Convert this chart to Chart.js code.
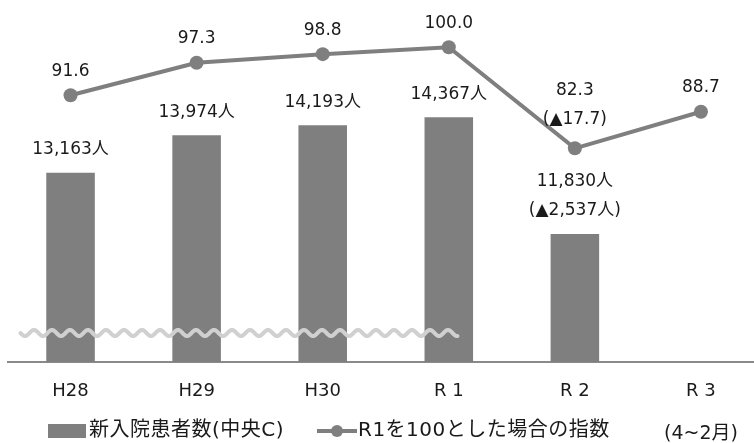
<!DOCTYPE html>
<html lang="ja">
<head>
<meta charset="utf-8">
<script src="https://cdn.jsdelivr.net/npm/chart.js@4/dist/chart.umd.min.js"></script>
<style>
  html, body { margin: 0; padding: 0; background: #fff; overflow: hidden; }
  #wrap { width: 764px; height: 443px; }
</style>
</head>
<body>
<div id="wrap"><canvas id="chart"></canvas></div>
<script>
// 年度ラベル
const years = ['H28', 'H29', 'H30', 'R 1', 'R 2', 'R 3'];
// 新入院患者数（中央C）: R3 は棒なし
const patients = [13163, 13974, 14193, 14367, 11830, null];
// R1を100とした場合の指数
const indexValues = [91.6, 97.3, 98.8, 100.0, 82.3, 88.7];
// 値ラベル（複数行は配列）
const patientLabels = ['13,163人', '13,974人', '14,193人', '14,367人', ['11,830人', '(▲2,537人)'], null];
const indexLabels = ['91.6', '97.3', '98.8', '100.0', ['82.3', '(▲17.7)'], '88.7'];
const periodNote = '(4~2月)';

const GRAY = '#7f7f7f';
const TEXT = '#1a1a1a';
const LATIN_JP = '"DejaVu Sans", "Noto Sans CJK JP", sans-serif';

// 値ラベル・波線・凡例を描くプラグイン
const decorations = {
  id: 'decorations',
  afterDatasetsDraw(chart) {
    const ctx = chart.ctx;
    const area = chart.chartArea;

    // 省略を示す波線
    ctx.save();
    ctx.strokeStyle = '#d0d0d0';
    ctx.lineWidth = 4;
    ctx.lineCap = 'round';
    ctx.beginPath();
    const wy = area.bottom - 29;
    const x0 = area.left + 13, x1 = area.left + 450;
    for (let x = x0; x <= x1; x += 1) {
      const y = wy + 3 * Math.sin((x - x0) / 18 * Math.PI * 2);
      if (x === x0) ctx.moveTo(x, y); else ctx.lineTo(x, y);
    }
    ctx.stroke();
    ctx.restore();

    // 値ラベル
    ctx.save();
    ctx.fillStyle = TEXT;
    ctx.font = '17px ' + LATIN_JP;
    ctx.textAlign = 'center';
    ctx.textBaseline = 'middle';
    const drawLabel = (lab, x, y, gap) => {
      if (!lab) return;
      const lines = Array.isArray(lab) ? lab : [lab];
      lines.forEach((t, i) => {
        ctx.fillText(t, x, y - gap - (lines.length - 1 - i) * 29);
      });
    };
    chart.getDatasetMeta(0).data.forEach((bar, i) => {
      if (patients[i] != null) drawLabel(patientLabels[i], bar.x, bar.y, 23);
    });
    chart.getDatasetMeta(1).data.forEach((pt, i) => {
      const gap = Array.isArray(indexLabels[i]) ? 29 : 24;
      drawLabel(indexLabels[i], pt.x, pt.y, gap);
    });
    ctx.restore();
  },
  afterDraw(chart) {
    const ctx = chart.ctx;
    const ds = chart.data.datasets;
    const ly = 431;
    ctx.save();
    ctx.font = '20px ' + LATIN_JP;
    ctx.textBaseline = 'middle';

    // 凡例: 棒
    ctx.fillStyle = ds[0].backgroundColor;
    ctx.fillRect(48, ly - 7, 38, 14);
    ctx.fillStyle = TEXT;
    ctx.textAlign = 'left';
    ctx.letterSpacing = '0.5px';
    ctx.fillText(ds[0].label, 89, ly);

    // 凡例: 折れ線
    ctx.strokeStyle = ds[1].borderColor;
    ctx.lineWidth = 4;
    ctx.beginPath();
    ctx.moveTo(317, ly);
    ctx.lineTo(357, ly);
    ctx.stroke();
    ctx.fillStyle = ds[1].pointBackgroundColor;
    ctx.beginPath();
    ctx.arc(337, ly, 6, 0, Math.PI * 2);
    ctx.fill();
    ctx.fillStyle = TEXT;
    ctx.fillText(ds[1].label, 358, ly);

    // R3 の期間注記
    ctx.letterSpacing = '0px';
    ctx.font = '19px ' + LATIN_JP;
    ctx.textAlign = 'center';
    const xs = chart.scales.x;
    ctx.fillText(periodNote, xs.getPixelForValue(5), ly + 3);
    ctx.restore();
  }
};

new Chart(document.getElementById('chart'), {
  data: {
    labels: years,
    datasets: [
      {
        type: 'bar',
        label: '新入院患者数(中央C)',
        data: patients,
        yAxisID: 'y',
        backgroundColor: GRAY,
        borderWidth: 0,
        categoryPercentage: 1,
        barPercentage: 0.385,
        order: 1
      },
      {
        type: 'line',
        label: 'R1を100とした場合の指数',
        data: indexValues,
        yAxisID: 'y2',
        borderColor: GRAY,
        borderWidth: 4,
        pointRadius: 7,
        pointBackgroundColor: GRAY,
        pointBorderWidth: 0,
        tension: 0,
        order: 0
      }
    ]
  },
  options: {
    responsive: true,
    maintainAspectRatio: false,
    animation: false,
    layout: { autoPadding: false, padding: { left: 7.5, right: 0, top: 0, bottom: 0 } },
    plugins: {
      legend: { display: false },
      tooltip: { enabled: false }
    },
    scales: {
      x: {
        grid: { display: false, drawTicks: false },
        border: { display: true, color: '#8a8a8a', width: 2 },
        ticks: {
          color: TEXT,
          padding: 19,
          font: { family: LATIN_JP, size: 18 }
        },
        afterFit(scale) { scale.height = 81; }
      },
      y: {
        display: false,
        min: 9047,
        max: 16917
      },
      y2: {
        display: false,
        min: 44.85,
        max: 108.29
      }
    }
  },
  plugins: [decorations]
});
</script>
</body>
</html>
